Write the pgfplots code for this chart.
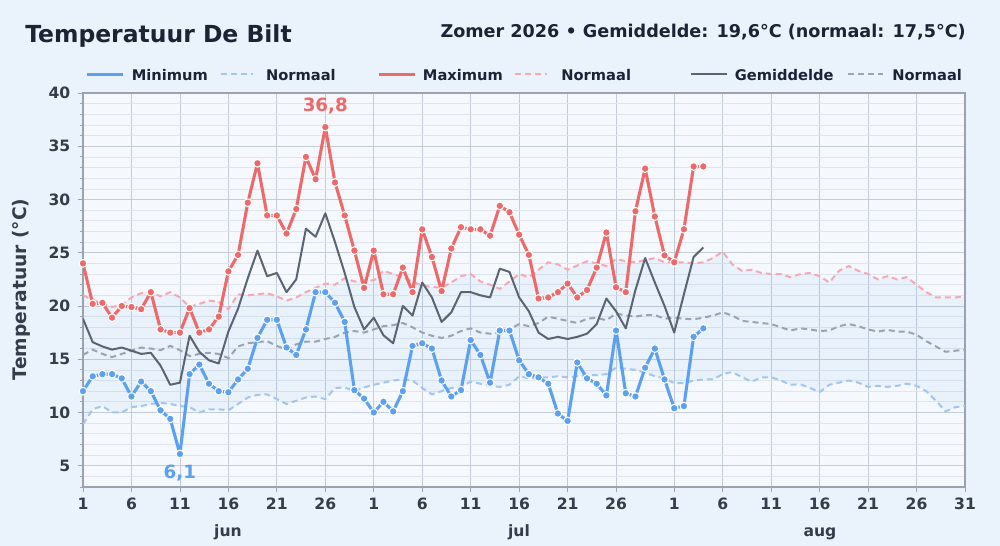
\documentclass[border=0pt]{standalone}
\usepackage{fontspec}
\setmainfont{DejaVu Sans}
\usepackage{pgfplots}
\pgfplotsset{compat=1.18}
\usepackage{pgfplotstable}
\usepgfplotslibrary{fillbetween}

\definecolor{figbg}{HTML}{EAF2FB}
\definecolor{plotbg}{HTML}{F5F8FD}
\definecolor{mincol}{HTML}{5CA0F0}
\definecolor{maxcol}{HTML}{EE6A6A}
\definecolor{avgcol}{HTML}{5B6472}
\definecolor{nmincol}{HTML}{A3C6EF}
\definecolor{nmaxcol}{HTML}{F4AAB0}
\definecolor{navgcol}{HTML}{9CA3AE}
\definecolor{tickcol}{HTML}{333D4B}
\definecolor{titlecol}{HTML}{1B2437}
\definecolor{framecol}{HTML}{9AA3AF}
\definecolor{gridmaj}{HTML}{C3CCD8}
\definecolor{gridmin}{HTML}{DFE5EE}
\definecolor{monthcol}{HTML}{9AA3AF}

% normals: day index (0 = 1 jun), normal min, normal max, normal mean
\pgfplotstableread{
d nmin nmax navg
0 8.9 21.0 15.4
1 10.3 20.6 15.9
2 10.6 20.2 15.5
3 10.0 19.9 15.2
4 10.0 20.1 15.5
5 10.5 20.8 15.8
6 10.6 21.2 16.1
7 10.8 21.3 16.0
8 10.9 20.9 15.85
9 10.8 21.3 16.25
10 10.6 20.8 15.85
11 10.5 19.9 15.3
12 10.0 20.2 15.5
13 10.3 20.5 15.6
14 10.3 20.4 15.5
15 10.2 19.7 15.1
16 10.8 21.1 16.2
17 11.4 21.0 16.5
18 11.65 21.1 16.6
19 11.7 21.2 16.7
20 11.25 20.9 16.25
21 10.8 20.5 15.9
22 11.1 20.8 16.4
23 11.4 21.3 16.65
24 11.5 21.7 16.65
25 11.25 22.1 16.9
26 12.3 22.0 17.1
27 12.35 22.6 17.5
28 12.0 22.3 17.65
29 12.35 22.4 17.5
30 12.6 22.4 17.8
31 12.8 23.3 18.1
32 13.0 23.0 18.2
33 13.1 22.7 18.4
34 13.0 22.3 18.0
35 12.3 21.9 17.5
36 11.7 21.8 17.2
37 12.0 21.7 17.0
38 12.3 22.2 17.2
39 12.4 22.8 17.65
40 12.9 23.0 17.9
41 12.7 22.3 17.5
42 12.5 22.0 17.4
43 12.4 21.6 17.5
44 12.6 22.3 17.8
45 13.4 23.0 18.3
46 13.2 22.7 18.1
47 13.3 23.4 18.4
48 13.3 24.1 19.0
49 13.4 23.9 18.8
50 13.3 23.4 18.6
51 13.4 23.8 18.4
52 13.5 24.2 18.8
53 13.5 24.0 18.9
54 13.6 23.75 18.65
55 14.2 24.4 19.3
56 14.1 24.2 19.1
57 14.0 24.1 19.0
58 13.75 24.3 19.15
59 13.4 24.5 19.15
60 13.2 24.1 18.8
61 12.75 24.1 18.9
62 12.75 24.1 18.8
63 13.0 24.0 18.75
64 13.1 24.1 18.9
65 13.1 24.5 19.1
66 13.6 25.1 19.4
67 13.8 23.9 19.1
68 13.3 23.3 18.6
69 12.9 23.4 18.5
70 13.3 23.1 18.4
71 13.3 23.0 18.3
72 13.0 23.0 18.0
73 12.6 22.7 17.7
74 12.65 23.0 17.9
75 12.3 23.1 17.8
76 11.9 22.8 17.65
77 12.6 22.2 17.7
78 12.8 23.3 18.1
79 13.0 23.75 18.3
80 12.8 23.3 18.1
81 12.4 23.0 17.8
82 12.5 22.5 17.6
83 12.4 22.8 17.75
84 12.5 22.5 17.6
85 12.7 22.7 17.6
86 12.5 22.0 17.3
87 12.0 21.3 16.7
88 11.1 20.8 16.2
89 10.1 20.8 15.7
90 10.5 20.8 15.8
91 10.6 20.9 15.9
}\normals

% observations: day index, minimum, maximum, daily mean
\pgfplotstableread{
d tmin tmax tavg
0 12.0 24.0 18.8
1 13.4 20.2 16.6
2 13.6 20.3 16.2
3 13.6 18.9 15.9
4 13.2 20.0 16.1
5 11.5 19.9 15.8
6 12.9 19.7 15.5
7 12.0 21.3 15.6
8 10.2 17.8 14.4
9 9.4 17.5 12.6
10 6.1 17.5 12.8
11 13.6 19.8 17.2
12 14.5 17.5 15.7
13 12.7 17.8 14.9
14 12.0 19.0 14.6
15 11.9 23.25 17.6
16 13.1 24.8 19.75
17 14.1 29.7 22.6
18 17.0 33.4 25.2
19 18.7 28.5 22.8
20 18.7 28.5 23.1
21 16.1 26.8 21.3
22 15.4 29.1 22.5
23 17.8 34.0 27.25
24 21.3 31.9 26.5
25 21.3 36.8 28.7
26 20.3 31.6 26.0
27 18.5 28.5 23.1
28 12.1 25.2 19.9
29 11.3 21.7 17.8
30 10.0 25.2 18.9
31 11.0 21.1 17.25
32 10.1 21.1 16.5
33 12.0 23.6 20.0
34 16.25 21.3 19.1
35 16.5 27.2 22.2
36 16.0 24.6 20.8
37 13.0 21.4 18.5
38 11.5 25.4 19.4
39 12.1 27.4 21.3
40 16.8 27.2 21.3
41 15.4 27.2 21.0
42 12.8 26.6 20.8
43 17.7 29.4 23.5
44 17.7 28.8 23.2
45 14.9 26.7 20.8
46 13.6 24.8 19.5
47 13.3 20.7 17.5
48 12.7 20.8 16.9
49 9.9 21.3 17.1
50 9.2 22.1 16.9
51 14.7 20.8 17.1
52 13.2 21.5 17.4
53 12.7 23.6 18.3
54 11.6 26.9 20.7
55 17.7 21.75 19.5
56 11.8 21.3 17.9
57 11.5 28.9 21.5
58 14.2 32.9 24.5
59 16.0 28.4 22.2
60 13.1 24.75 20.0
61 10.4 24.1 17.5
62 10.6 27.2 21.1
63 17.1 33.1 24.6
64 17.9 33.1 25.5
}\obs

\begin{document}%
\pagecolor{figbg}%
\begin{tikzpicture}
\path (0pt,0pt) rectangle (750pt,-409.5pt);

\begin{axis}[
  at={(62.25pt,-365.25pt)}, anchor=south west,
  scale only axis, width=661.5pt, height=295.5pt,
  xmin=0, xmax=91, ymin=3, ymax=40,
  axis background/.style={fill=plotbg},
  axis line style={draw=framecol, line width=0.8pt},
  xtick={0,5,10,15,20,25,30,35,40,45,50,55,61,66,71,76,81,86,91},
  xticklabels={1,6,11,16,21,26,1,6,11,16,21,26,1,6,11,16,21,26,31},
  ytick={5,10,15,20,25,30,35,40},
  minor ytick={3,4,6,7,8,9,11,12,13,14,16,17,18,19,21,22,23,24,26,27,28,29,31,32,33,34,36,37,38,39},
  xtick pos=bottom, ytick pos=left,
  tick align=outside,
  major tick length=4pt, minor tick length=2.5pt,
  tick style={draw=framecol, line width=0.6pt},
  xmajorgrids, ymajorgrids, yminorgrids,
  major grid style={draw=gridmaj, line width=0.6pt},
  minor grid style={draw=gridmin, line width=0.5pt},
  extra x ticks={30,61}, extra x tick labels={},
  extra x tick style={grid style={draw=monthcol, line width=1pt}},
  /pgf/number format/assume math mode=true,
  tick label style={font=\fontsize{11.7}{14}\selectfont\bfseries, text=tickcol},
  xticklabel style={yshift=-1pt},
  yticklabel style={xshift=-2pt},
]
\addplot[draw=none, name path=nlo] table[x=d, y=nmin] {\normals};
\addplot[draw=none, name path=nhi] table[x=d, y=nmax] {\normals};
\addplot[mincol, opacity=0.08] fill between[of=nlo and nhi];

\addplot[nmincol, line width=1.5pt, dash pattern=on 4.5pt off 3pt] table[x=d, y=nmin] {\normals};
\addplot[nmaxcol, line width=1.5pt, dash pattern=on 4.5pt off 3pt] table[x=d, y=nmax] {\normals};
\addplot[navgcol, line width=1.5pt, dash pattern=on 4.5pt off 3pt] table[x=d, y=navg] {\normals};

\addplot[avgcol, line width=1.5pt, line join=round] table[x=d, y=tavg] {\obs};
\addplot[mincol, line width=2.3pt, line join=round, mark=*, mark size=2.9pt,
  mark options={fill=mincol, draw=white, line width=0.8pt, solid}] table[x=d, y=tmin] {\obs};
\addplot[maxcol, line width=2.3pt, line join=round, mark=*, mark size=2.9pt,
  mark options={fill=maxcol, draw=white, line width=0.8pt, solid}] table[x=d, y=tmax] {\obs};

\node[font=\fontsize{13.7}{16}\selectfont\bfseries, text=maxcol] at (axis cs:25,38.8) {36,8};
\node[font=\fontsize{13.7}{16}\selectfont\bfseries, text=mincol] at (axis cs:10,4.3) {6,1};
\end{axis}

% titles
\node[anchor=base west, font=\fontsize{17.6}{20}\selectfont\bfseries, text=titlecol, inner sep=0pt] at (18.75pt,-32pt) {Temperatuur De Bilt};
\node[anchor=base east, font=\fontsize{13.2}{16}\selectfont\bfseries, text=titlecol, inner sep=0pt] at (724.5pt,-28.3pt) {Zomer 2026 • Gemiddelde: 19,6°C (normaal: 17,5°C)};

% y label
\node[rotate=90, font=\fontsize{14}{16}\selectfont\bfseries, text=tickcol, inner sep=0pt] at (16.3pt,-217pt) {Temperatuur (°C)};

% month labels
\node[anchor=base, font=\fontsize{11.7}{14}\selectfont\bfseries, text=tickcol, inner sep=0pt] at (171pt,-402pt) {jun};
\node[anchor=base, font=\fontsize{11.7}{14}\selectfont\bfseries, text=tickcol, inner sep=0pt] at (389.25pt,-402pt) {jul};
\node[anchor=base, font=\fontsize{11.7}{14}\selectfont\bfseries, text=tickcol, inner sep=0pt] at (615pt,-402pt) {aug};

% legend
\begin{scope}[every node/.style={anchor=base west, font=\fontsize{11}{13}\selectfont\bfseries, text=titlecol, inner sep=0pt}]
\draw[mincol, line width=2.3pt] (65.5pt,-55.7pt) -- (92.5pt,-55.7pt);
\node at (98.7pt,-60pt) {Minimum};
\draw[nmincol, line width=1.5pt, dash pattern=on 4.5pt off 3pt] (166pt,-55.7pt) -- (190pt,-55.7pt);
\node at (199.3pt,-60pt) {Normaal};
\draw[maxcol, line width=2.3pt] (284.3pt,-55.7pt) -- (311.3pt,-55.7pt);
\node at (317pt,-60pt) {Maximum};
\draw[nmaxcol, line width=1.5pt, dash pattern=on 4.5pt off 3pt] (386pt,-55.7pt) -- (410pt,-55.7pt);
\node at (420.8pt,-60pt) {Normaal};
\draw[avgcol, line width=1.5pt] (518pt,-55.7pt) -- (545pt,-55.7pt);
\node at (551pt,-60pt) {Gemiddelde};
\draw[navgcol, line width=1.5pt, dash pattern=on 4.5pt off 3pt] (636pt,-55.7pt) -- (662pt,-55.7pt);
\node at (669pt,-60pt) {Normaal};
\end{scope}

\pgfresetboundingbox
\path (0pt,0pt) rectangle (750pt,-409.5pt);
\end{tikzpicture}%
\end{document}
